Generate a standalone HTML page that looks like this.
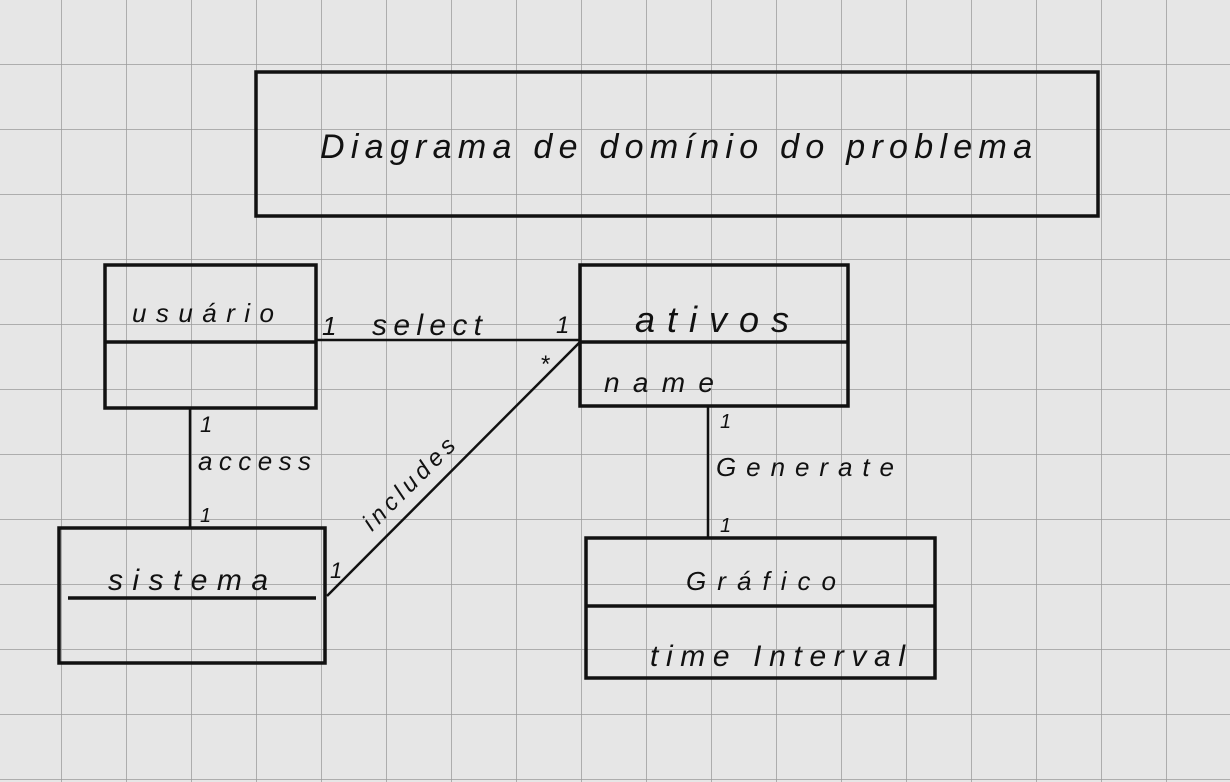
<!DOCTYPE html>
<html><head><meta charset="utf-8"><style>
html,body{margin:0;padding:0;width:1230px;height:782px;overflow:hidden;background:#e6e6e6}
svg{display:block}
text{font-family:"Liberation Sans",sans-serif;fill:#111}
</style></head><body>
<svg width="1230" height="782" viewBox="0 0 1230 782" xmlns="http://www.w3.org/2000/svg">
<defs>
<pattern id="g" x="61" y="64" width="65" height="65" patternUnits="userSpaceOnUse">
<path d="M0 0V65M0 0H65" stroke="#9a9a9a" stroke-width="1.5" fill="none"/>
</pattern>
</defs>
<rect width="1230" height="782" fill="#e6e6e6"/>
<rect width="1230" height="782" fill="url(#g)" transform="translate(0,0)"/>
<g fill="none" stroke="#111" stroke-width="3.5">
<rect x="256" y="72" width="842" height="144"/>
<rect x="105" y="265" width="211" height="143"/>
<line x1="105" y1="342" x2="316" y2="342"/>
<rect x="580" y="265" width="268" height="141"/>
<line x1="580" y1="342" x2="848" y2="342"/>
<rect x="59" y="528" width="266" height="135"/>
<line x1="68" y1="598" x2="316" y2="598"/>
<rect x="586" y="538" width="349" height="140"/>
<line x1="586" y1="606" x2="935" y2="606"/>
<line x1="316" y1="340" x2="580" y2="340" stroke-width="2.5"/>
<line x1="190" y1="408" x2="190" y2="528" stroke-width="2.5"/>
<line x1="327" y1="596" x2="580" y2="342" stroke-width="2.5"/>
<line x1="708" y1="406" x2="708" y2="538" stroke-width="2.5"/>
</g>
<text x="320" y="158" font-size="34" font-style="italic" textLength="712">Diagrama de domínio do problema</text>
<text x="132" y="322" font-size="26" font-style="italic" textLength="145" letter-spacing="3">usuário</text>
<text x="635" y="332" font-size="36" font-style="italic" textLength="160" letter-spacing="6">ativos</text>
<text x="604" y="392" font-size="28" font-style="italic" textLength="110">name</text>
<text x="108" y="590" font-size="30" font-style="italic" textLength="160">sistema</text>
<text x="686" y="590" font-size="26" font-style="italic" textLength="150">Gráfico</text>
<text x="650" y="666" font-size="30" font-style="italic" textLength="255">time Interval</text>
<text x="322" y="335" font-size="26" font-style="italic">1</text>
<text x="372" y="335" font-size="30" font-style="italic" textLength="110">select</text>
<text x="556" y="333" font-size="24" font-style="italic">1</text>
<text x="541" y="372" font-size="24">*</text>
<text x="200" y="432" font-size="22" font-style="italic">1</text>
<text x="198" y="470" font-size="26" font-style="italic" textLength="115" letter-spacing="2">access</text>
<text x="200" y="522" font-size="20" font-style="italic">1</text>
<text x="330" y="578" font-size="22" font-style="italic">1</text>
<text x="0" y="0" font-size="24" font-style="italic" textLength="120" transform="translate(372,532) rotate(-45)">includes</text>
<text x="720" y="428" font-size="20" font-style="italic">1</text>
<text x="716" y="476" font-size="26" font-style="italic" textLength="178">Generate</text>
<text x="720" y="532" font-size="20" font-style="italic">1</text>
</svg>
</body></html>
